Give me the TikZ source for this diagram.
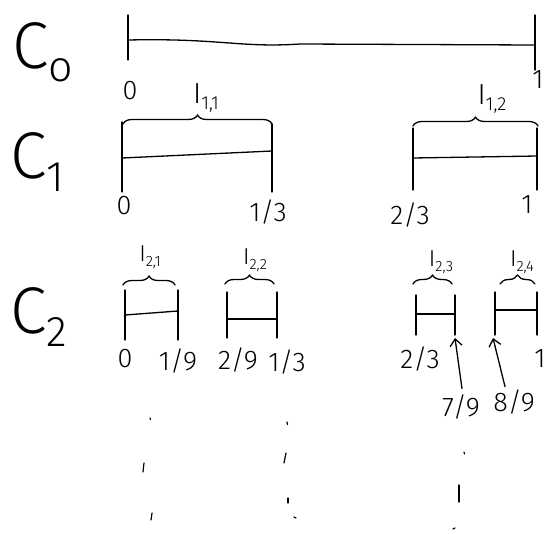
\documentclass[tikz,border=0pt]{standalone}
\usepackage{fontspec}
\setmainfont{Fira Sans Light}
\usetikzlibrary{decorations.pathreplacing,arrows.meta}
\tikzset{
  pen/.style={line width=1.3pt, line cap=round, line join=round},
  seg/.style={pen},
  tick/.style={pen},
  brc/.style={pen, decorate, decoration={brace, amplitude=9pt, aspect=0.5}},
  setname/.style={font=\fontsize{66}{68}\selectfont, inner sep=0pt},
  lbl/.style={font=\fontsize{27}{29}\selectfont, inner sep=0pt},
  ilbl/.style={font=\fontsize{29}{31}\selectfont, inner sep=0pt},
  slbl/.style={font=\fontsize{23}{25}\selectfont, inner sep=0pt},
  pnt/.style={pen, line width=1.2pt},
  up/.style={pen, -{Straight Barb[length=7pt, width=12pt, line width=1.3pt]}}
}
\newcommand{\idx}[1]{\raisebox{-0.2em}{\scalebox{0.65}{#1}}}
\begin{document}
\begin{tikzpicture}[x=1pt, y=-1pt]
\useasboundingbox (0,0) rectangle (549,533);

% names of the three stages
\node[setname, anchor=base west] (c0) at (12,68) {C\idx{o}};
\node[setname, anchor=base west] (c1) at (10,178) {C\idx{1}};
\node[setname, anchor=base west] (c2) at (10,333) {C\idx{2}};

% stage 0: the unit interval
\coordinate (a0) at (128,40);
\coordinate (b0) at (535,45);
\draw[seg] (a0) .. controls (220,38) and (240,48) .. (300,44) -- (b0);
\draw[tick] (128,15) -- (128,60);
\draw[tick] (535,15) -- (535,70);
\node[lbl] (l00) at (130,91) {0};
\node[lbl] (l01) at (538,80) {1};

% stage 1: two thirds
\draw[seg] (122,158) -- (272,151);
\draw[tick] (122,122) -- (122,192);
\draw[tick] (272,124) -- (272,192);
\draw[brc] (123,124) -- (272,124);
\node[ilbl] (i11) at (206,98) {I\idx{1,1}};

\draw[seg] (413,158) -- (537,156);
\draw[tick] (413,128) -- (413,190);
\draw[tick] (537,128) -- (537,190);
\draw[brc] (413,126) -- (538,126);
\node[ilbl] (i12) at (492,99) {I\idx{1,2}};

\node[lbl] (l10) at (124,206) {0};
\node[lbl] (l11) at (268,212) {1/3};
\node[lbl] (l12) at (410,215) {2/3};
\node[lbl] (l13) at (527,205) {1};

% stage 2: four ninths
\draw[seg] (125,315) -- (178,311);
\draw[tick] (125,290) -- (125,340);
\draw[tick] (178,290) -- (178,340);
\draw[brc] (123,285) -- (175,285);
\node[slbl] (i21) at (150,257) {I\idx{2,1}};

\draw[seg] (227,319) -- (277,319);
\draw[tick] (227,292) -- (227,338);
\draw[tick] (277,292) -- (277,338);
\draw[brc] (225,284) -- (274,284);
\node[slbl] (i22) at (255,260) {I\idx{2,2}};

\draw[seg] (416,314) -- (455,314);
\draw[tick] (416,295) -- (416,335);
\draw[tick] (455,295) -- (455,335);
\draw[brc] (413,284) -- (452,284);
\node[slbl] (i23) at (441,262) {I\idx{2,3}};

\draw[seg] (495,310) -- (537,310);
\draw[tick] (495,292) -- (495,335);
\draw[tick] (537,292) -- (537,335);
\draw[brc] (500,284) -- (535,284);
\node[slbl] (i24) at (522,262) {I\idx{2,4}};

\node[lbl] (l20) at (125,359) {0};
\node[lbl] (l21) at (178,361) {1/9};
\node[lbl] (l22) at (238,360) {2/9};
\node[lbl] (l23) at (287,362) {1/3};
\node[lbl] (l24) at (420,359) {2/3};
\node[lbl] (l27) at (540,359) {1};

% the two inner end points, pointed at from below
\coordinate (p7) at (455,338);
\coordinate (p8) at (493,338);
\node[lbl] (l25) at (461,407) {7/9};
\node[lbl] (l26) at (514,402) {8/9};
\draw[up] ([xshift=1pt]l25.north) ++(0,-6) -- (p7);
\draw[up] ([xshift=-9pt]l26.north) ++(0,-3) -- (p8);

% the dots going on below
\draw[pnt] (150,418) -- (150.5,419.5);
\draw[pnt] (144,463) -- (143,472);
\draw[pnt] (152,513) -- (151,520);
\draw[pnt] (287,422) -- (287.5,424.5);
\draw[pnt] (286,453) -- (284,463);
\draw[pnt] (288,498) -- (288,503);
\draw[pnt] (294,517) -- (296,518);
\draw[pnt] (464,452) -- (464.5,454);
\draw[pnt] (459,485) -- (459,502);
\draw[pnt] (453,529) -- (455,528);
\end{tikzpicture}
\end{document}
